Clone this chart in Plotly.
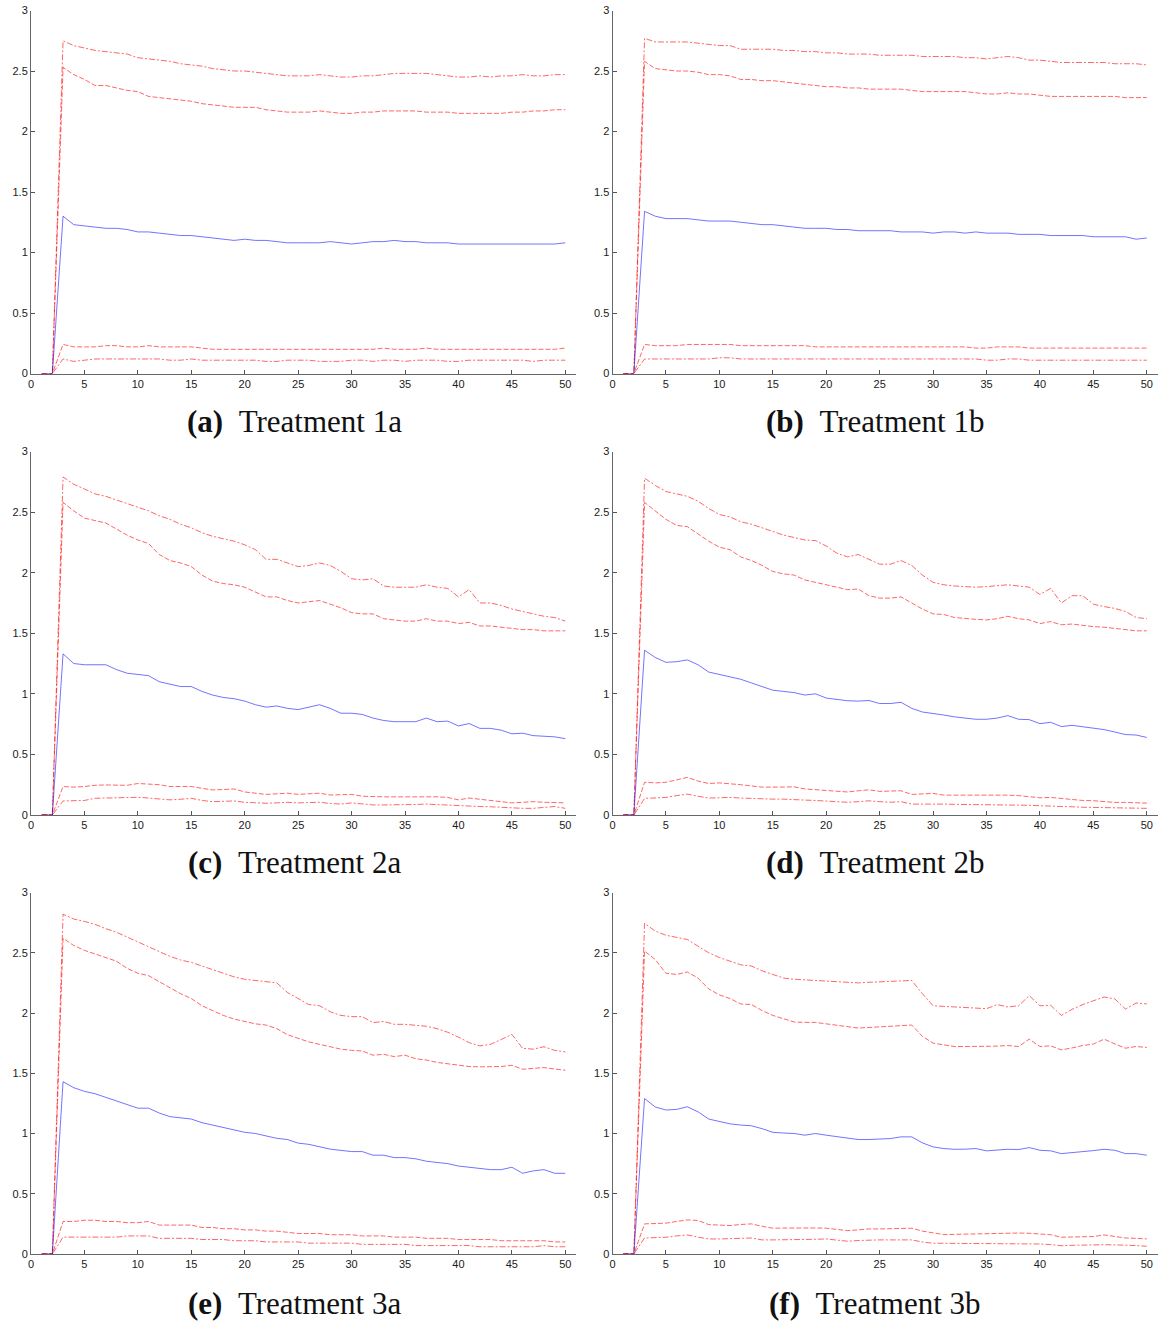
import plotly.graph_objects as go

x = list(range(1, 51))

# ---------------- Treatment 1a ----------------
a_up_outer = [0, 0, 2.75, 2.71, 2.69, 2.67, 2.66, 2.65, 2.64, 2.61, 2.60, 2.59, 2.58, 2.56, 2.55, 2.54, 2.52, 2.51, 2.50, 2.50,
              2.49, 2.48, 2.47, 2.46, 2.46, 2.46, 2.47, 2.46, 2.45, 2.45, 2.46, 2.46, 2.47, 2.48, 2.48, 2.48, 2.48, 2.47, 2.46, 2.45,
              2.45, 2.46, 2.45, 2.46, 2.46, 2.47, 2.46, 2.46, 2.47, 2.47]
a_up_inner = [0, 0, 2.53, 2.47, 2.43, 2.38, 2.38, 2.36, 2.34, 2.33, 2.29, 2.28, 2.27, 2.26, 2.25, 2.23, 2.22, 2.21, 2.20, 2.20,
              2.20, 2.18, 2.17, 2.16, 2.16, 2.16, 2.17, 2.16, 2.15, 2.15, 2.16, 2.16, 2.17, 2.17, 2.17, 2.17, 2.16, 2.16, 2.16, 2.15,
              2.15, 2.15, 2.15, 2.15, 2.16, 2.16, 2.17, 2.17, 2.18, 2.18]
a_mean = [0, 0, 1.30, 1.23, 1.22, 1.21, 1.20, 1.20, 1.19, 1.17, 1.17, 1.16, 1.15, 1.14, 1.14, 1.13, 1.12, 1.11, 1.10, 1.11,
          1.10, 1.10, 1.09, 1.08, 1.08, 1.08, 1.08, 1.09, 1.08, 1.07, 1.08, 1.09, 1.09, 1.10, 1.09, 1.09, 1.08, 1.08, 1.08, 1.07,
          1.07, 1.07, 1.07, 1.07, 1.07, 1.07, 1.07, 1.07, 1.07, 1.08]
a_lo_inner = [0, 0, 0.24, 0.22, 0.22, 0.22, 0.23, 0.23, 0.22, 0.22, 0.23, 0.22, 0.22, 0.22, 0.22, 0.21, 0.20, 0.20, 0.20, 0.20,
              0.20, 0.20, 0.20, 0.20, 0.20, 0.20, 0.20, 0.20, 0.20, 0.20, 0.20, 0.20, 0.21, 0.20, 0.20, 0.20, 0.21, 0.20, 0.20, 0.20,
              0.20, 0.20, 0.20, 0.20, 0.20, 0.20, 0.20, 0.20, 0.20, 0.21]
a_lo_outer = [0, 0, 0.12, 0.10, 0.11, 0.12, 0.12, 0.12, 0.12, 0.12, 0.12, 0.12, 0.11, 0.11, 0.12, 0.11, 0.11, 0.11, 0.11, 0.11,
              0.11, 0.10, 0.10, 0.11, 0.11, 0.11, 0.10, 0.10, 0.10, 0.11, 0.11, 0.10, 0.11, 0.11, 0.10, 0.11, 0.11, 0.11, 0.10, 0.10,
              0.11, 0.11, 0.11, 0.11, 0.11, 0.11, 0.10, 0.11, 0.11, 0.11]

# ---------------- Treatment 1b ----------------
b_up_outer = [0, 0, 2.77, 2.74, 2.74, 2.74, 2.74, 2.73, 2.72, 2.71, 2.71, 2.68, 2.68, 2.68, 2.68, 2.67, 2.67, 2.66, 2.66, 2.65,
              2.65, 2.64, 2.64, 2.64, 2.63, 2.63, 2.63, 2.63, 2.62, 2.62, 2.62, 2.62, 2.61, 2.61, 2.60, 2.61, 2.62, 2.61, 2.59, 2.59,
              2.58, 2.57, 2.57, 2.57, 2.57, 2.57, 2.56, 2.56, 2.56, 2.55]
b_up_inner = [0, 0, 2.58, 2.52, 2.51, 2.50, 2.50, 2.49, 2.47, 2.47, 2.46, 2.43, 2.43, 2.42, 2.42, 2.41, 2.40, 2.39, 2.38, 2.37,
              2.37, 2.36, 2.36, 2.35, 2.35, 2.35, 2.35, 2.34, 2.33, 2.33, 2.33, 2.33, 2.33, 2.32, 2.31, 2.31, 2.32, 2.31, 2.31, 2.30,
              2.29, 2.29, 2.29, 2.29, 2.29, 2.29, 2.29, 2.28, 2.28, 2.28]
b_mean = [0, 0, 1.34, 1.30, 1.28, 1.28, 1.28, 1.27, 1.26, 1.26, 1.26, 1.25, 1.24, 1.23, 1.23, 1.22, 1.21, 1.20, 1.20, 1.20,
          1.19, 1.19, 1.18, 1.18, 1.18, 1.18, 1.17, 1.17, 1.17, 1.16, 1.17, 1.17, 1.16, 1.17, 1.16, 1.16, 1.16, 1.15, 1.15, 1.15,
          1.14, 1.14, 1.14, 1.14, 1.13, 1.13, 1.13, 1.13, 1.11, 1.12]
b_lo_inner = [0, 0, 0.24, 0.23, 0.23, 0.23, 0.24, 0.24, 0.24, 0.24, 0.24, 0.23, 0.23, 0.23, 0.23, 0.23, 0.23, 0.23, 0.22, 0.22,
              0.22, 0.22, 0.22, 0.22, 0.22, 0.22, 0.22, 0.22, 0.22, 0.22, 0.22, 0.22, 0.22, 0.21, 0.21, 0.22, 0.22, 0.22, 0.21, 0.21,
              0.21, 0.21, 0.21, 0.21, 0.21, 0.21, 0.21, 0.21, 0.21, 0.21]
b_lo_outer = [0, 0, 0.12, 0.12, 0.12, 0.12, 0.12, 0.12, 0.12, 0.13, 0.13, 0.12, 0.12, 0.12, 0.12, 0.12, 0.12, 0.12, 0.12, 0.12,
              0.12, 0.12, 0.12, 0.12, 0.12, 0.12, 0.12, 0.12, 0.12, 0.12, 0.12, 0.12, 0.12, 0.12, 0.11, 0.11, 0.12, 0.12, 0.11, 0.11,
              0.11, 0.11, 0.11, 0.11, 0.11, 0.11, 0.11, 0.11, 0.11, 0.11]

# ---------------- Treatment 2a ----------------
c_up_outer = [0, 0, 2.79, 2.73, 2.69, 2.65, 2.63, 2.60, 2.57, 2.54, 2.51, 2.47, 2.44, 2.40, 2.37, 2.33, 2.30, 2.28, 2.26, 2.23,
              2.19, 2.11, 2.11, 2.08, 2.05, 2.06, 2.08, 2.06, 2.01, 1.95, 1.94, 1.95, 1.89, 1.88, 1.88, 1.88, 1.90, 1.88, 1.87, 1.80,
              1.86, 1.75, 1.75, 1.73, 1.70, 1.68, 1.66, 1.64, 1.63, 1.60]
c_up_inner = [0, 0, 2.58, 2.51, 2.45, 2.43, 2.41, 2.36, 2.31, 2.27, 2.24, 2.15, 2.10, 2.08, 2.05, 1.98, 1.93, 1.91, 1.90, 1.88,
              1.84, 1.80, 1.80, 1.77, 1.75, 1.76, 1.77, 1.74, 1.71, 1.67, 1.66, 1.66, 1.62, 1.61, 1.60, 1.60, 1.62, 1.60, 1.60, 1.58,
              1.59, 1.56, 1.56, 1.55, 1.54, 1.53, 1.53, 1.52, 1.52, 1.52]
c_mean = [0, 0, 1.33, 1.25, 1.24, 1.24, 1.24, 1.20, 1.17, 1.16, 1.15, 1.10, 1.08, 1.06, 1.06, 1.02, 0.99, 0.97, 0.96, 0.94,
          0.91, 0.89, 0.90, 0.88, 0.87, 0.89, 0.91, 0.88, 0.84, 0.84, 0.83, 0.80, 0.78, 0.77, 0.77, 0.77, 0.80, 0.77, 0.775, 0.735,
          0.755, 0.715, 0.715, 0.70, 0.67, 0.675, 0.655, 0.65, 0.645, 0.63]
c_lo_inner = [0, 0, 0.235, 0.23, 0.235, 0.245, 0.248, 0.245, 0.245, 0.26, 0.257, 0.25, 0.235, 0.235, 0.235, 0.22, 0.207, 0.21, 0.215, 0.19,
              0.18, 0.17, 0.175, 0.18, 0.17, 0.175, 0.18, 0.165, 0.165, 0.17, 0.155, 0.15, 0.15, 0.15, 0.15, 0.155, 0.155, 0.15, 0.145, 0.125,
              0.14, 0.13, 0.125, 0.115, 0.10, 0.105, 0.11, 0.105, 0.10, 0.10]
c_lo_outer = [0, 0, 0.116, 0.115, 0.12, 0.138, 0.14, 0.14, 0.143, 0.146, 0.14, 0.13, 0.125, 0.13, 0.138, 0.12, 0.11, 0.113, 0.116, 0.105,
              0.10, 0.097, 0.10, 0.105, 0.10, 0.103, 0.105, 0.095, 0.09, 0.10, 0.09, 0.083, 0.083, 0.083, 0.083, 0.087, 0.09, 0.085, 0.08, 0.074,
              0.075, 0.07, 0.068, 0.062, 0.055, 0.055, 0.055, 0.06, 0.07, 0.055]

# ---------------- Treatment 2b ----------------
d_up_outer = [0, 0, 2.78, 2.72, 2.67, 2.65, 2.63, 2.59, 2.53, 2.48, 2.46, 2.42, 2.40, 2.37, 2.34, 2.31, 2.29, 2.27, 2.265, 2.22,
              2.16, 2.13, 2.15, 2.11, 2.07, 2.07, 2.10, 2.06, 1.98, 1.92, 1.90, 1.89, 1.885, 1.88, 1.885, 1.89, 1.90, 1.89, 1.88, 1.82,
              1.87, 1.75, 1.81, 1.81, 1.74, 1.72, 1.705, 1.68, 1.63, 1.62]
d_up_inner = [0, 0, 2.58, 2.51, 2.44, 2.39, 2.38, 2.32, 2.26, 2.21, 2.19, 2.13, 2.10, 2.06, 2.01, 1.99, 1.98, 1.94, 1.92, 1.90,
              1.88, 1.86, 1.865, 1.81, 1.79, 1.79, 1.80, 1.75, 1.70, 1.66, 1.655, 1.63, 1.62, 1.615, 1.61, 1.62, 1.64, 1.62, 1.61, 1.58,
              1.596, 1.57, 1.576, 1.565, 1.555, 1.55, 1.54, 1.53, 1.52, 1.52]
d_mean = [0, 0, 1.36, 1.30, 1.26, 1.265, 1.28, 1.24, 1.18, 1.16, 1.14, 1.12, 1.09, 1.06, 1.03, 1.02, 1.01, 0.99, 1.00, 0.965,
          0.955, 0.943, 0.94, 0.945, 0.92, 0.92, 0.93, 0.88, 0.85, 0.84, 0.825, 0.81, 0.80, 0.79, 0.79, 0.80, 0.82, 0.79, 0.787, 0.754,
          0.765, 0.73, 0.74, 0.73, 0.715, 0.705, 0.685, 0.664, 0.66, 0.64]
d_lo_inner = [0, 0, 0.27, 0.265, 0.27, 0.29, 0.31, 0.28, 0.26, 0.265, 0.26, 0.25, 0.24, 0.23, 0.23, 0.232, 0.232, 0.215, 0.21, 0.205,
              0.20, 0.19, 0.20, 0.208, 0.195, 0.197, 0.20, 0.17, 0.175, 0.178, 0.164, 0.165, 0.166, 0.167, 0.166, 0.165, 0.164, 0.16, 0.153, 0.142,
              0.145, 0.135, 0.126, 0.12, 0.118, 0.11, 0.104, 0.104, 0.104, 0.098]
d_lo_outer = [0, 0, 0.137, 0.14, 0.145, 0.16, 0.172, 0.155, 0.14, 0.142, 0.145, 0.14, 0.135, 0.13, 0.131, 0.131, 0.13, 0.123, 0.12, 0.117,
              0.11, 0.105, 0.11, 0.117, 0.11, 0.105, 0.11, 0.09, 0.09, 0.092, 0.09, 0.088, 0.087, 0.085, 0.086, 0.087, 0.087, 0.083, 0.08, 0.076,
              0.075, 0.071, 0.068, 0.064, 0.063, 0.063, 0.063, 0.063, 0.06, 0.055]

# ---------------- Treatment 3a ----------------
e_up_outer = [0, 0, 2.82, 2.78, 2.76, 2.735, 2.70, 2.67, 2.63, 2.59, 2.555, 2.51, 2.47, 2.44, 2.42, 2.39, 2.36, 2.33, 2.30, 2.28,
              2.27, 2.26, 2.25, 2.17, 2.12, 2.07, 2.06, 2.01, 1.98, 1.97, 1.97, 1.92, 1.93, 1.906, 1.906, 1.90, 1.89, 1.87, 1.84, 1.80,
              1.754, 1.727, 1.74, 1.78, 1.823, 1.707, 1.70, 1.72, 1.69, 1.677]
e_up_inner = [0, 0, 2.62, 2.56, 2.52, 2.49, 2.46, 2.43, 2.37, 2.33, 2.31, 2.26, 2.21, 2.16, 2.12, 2.06, 2.02, 1.98, 1.95, 1.93,
              1.91, 1.90, 1.87, 1.82, 1.79, 1.76, 1.74, 1.72, 1.70, 1.69, 1.685, 1.65, 1.657, 1.638, 1.65, 1.62, 1.61, 1.59, 1.58, 1.565,
              1.556, 1.553, 1.553, 1.556, 1.566, 1.533, 1.54, 1.547, 1.535, 1.525]
e_mean = [0, 0, 1.43, 1.38, 1.35, 1.33, 1.30, 1.27, 1.24, 1.21, 1.21, 1.17, 1.14, 1.13, 1.12, 1.09, 1.07, 1.05, 1.03, 1.01,
          1.00, 0.98, 0.96, 0.95, 0.92, 0.91, 0.89, 0.87, 0.86, 0.85, 0.85, 0.82, 0.82, 0.80, 0.80, 0.79, 0.77, 0.76, 0.75, 0.73,
          0.72, 0.71, 0.70, 0.70, 0.72, 0.67, 0.69, 0.70, 0.67, 0.67]
e_lo_inner = [0, 0, 0.27, 0.27, 0.28, 0.28, 0.27, 0.27, 0.26, 0.26, 0.27, 0.24, 0.24, 0.24, 0.24, 0.22, 0.22, 0.21, 0.21, 0.20,
              0.20, 0.19, 0.19, 0.18, 0.17, 0.17, 0.17, 0.16, 0.16, 0.16, 0.15, 0.15, 0.15, 0.14, 0.14, 0.14, 0.13, 0.13, 0.13, 0.12,
              0.12, 0.12, 0.12, 0.11, 0.11, 0.11, 0.11, 0.11, 0.10, 0.10]
e_lo_outer = [0, 0, 0.14, 0.14, 0.14, 0.14, 0.14, 0.14, 0.15, 0.15, 0.15, 0.13, 0.13, 0.13, 0.13, 0.12, 0.12, 0.12, 0.11, 0.11,
              0.11, 0.10, 0.10, 0.10, 0.10, 0.09, 0.09, 0.09, 0.09, 0.09, 0.08, 0.08, 0.08, 0.08, 0.08, 0.07, 0.07, 0.07, 0.07, 0.07,
              0.07, 0.06, 0.06, 0.06, 0.06, 0.06, 0.06, 0.07, 0.06, 0.06]

# ---------------- Treatment 3b ----------------
f_up_outer = [0, 0, 2.744, 2.68, 2.645, 2.625, 2.61, 2.555, 2.50, 2.46, 2.43, 2.40, 2.39, 2.35, 2.32, 2.29, 2.28, 2.278, 2.27, 2.265,
              2.26, 2.25, 2.25, 2.255, 2.26, 2.262, 2.265, 2.27, 2.16, 2.06, 2.055, 2.05, 2.045, 2.04, 2.036, 2.07, 2.05, 2.06, 2.144, 2.06,
              2.064, 1.98, 2.03, 2.07, 2.10, 2.133, 2.117, 2.033, 2.083, 2.075]
f_up_inner = [0, 0, 2.514, 2.444, 2.33, 2.32, 2.34, 2.29, 2.20, 2.15, 2.12, 2.075, 2.07, 2.02, 1.98, 1.95, 1.925, 1.922, 1.922, 1.91,
              1.90, 1.885, 1.875, 1.88, 1.885, 1.89, 1.895, 1.90, 1.806, 1.75, 1.735, 1.722, 1.722, 1.722, 1.722, 1.725, 1.73, 1.722, 1.783, 1.722,
              1.728, 1.694, 1.71, 1.73, 1.742, 1.783, 1.744, 1.708, 1.722, 1.714]
f_mean = [0, 0, 1.29, 1.22, 1.195, 1.20, 1.222, 1.18, 1.12, 1.097, 1.08, 1.07, 1.064, 1.04, 1.01, 1.004, 1.0, 0.986, 1.0, 0.986,
          0.972, 0.96, 0.95, 0.95, 0.955, 0.958, 0.972, 0.972, 0.922, 0.889, 0.875, 0.869, 0.870, 0.875, 0.856, 0.865, 0.869, 0.867, 0.883, 0.861,
          0.856, 0.833, 0.84, 0.847, 0.858, 0.869, 0.861, 0.833, 0.833, 0.82]
f_lo_inner = [0, 0, 0.25, 0.252, 0.256, 0.27, 0.283, 0.278, 0.244, 0.24, 0.236, 0.245, 0.25, 0.23, 0.214, 0.215, 0.217, 0.217, 0.216, 0.214,
              0.205, 0.194, 0.20, 0.208, 0.208, 0.21, 0.212, 0.214, 0.19, 0.175, 0.161, 0.163, 0.165, 0.167, 0.17, 0.173, 0.175, 0.174, 0.172, 0.163,
              0.16, 0.139, 0.139, 0.139, 0.145, 0.158, 0.145, 0.133, 0.13, 0.125]
f_lo_outer = [0, 0, 0.133, 0.135, 0.139, 0.15, 0.158, 0.14, 0.125, 0.125, 0.125, 0.13, 0.133, 0.117, 0.117, 0.117, 0.117, 0.12, 0.122, 0.125,
              0.115, 0.106, 0.112, 0.117, 0.117, 0.117, 0.117, 0.117, 0.10, 0.089, 0.089, 0.089, 0.086, 0.083, 0.083, 0.083, 0.083, 0.083, 0.083, 0.083,
              0.078, 0.069, 0.072, 0.075, 0.078, 0.077, 0.076, 0.075, 0.07, 0.064]

panels = [
    ("a", "Treatment 1a", a_up_outer, a_up_inner, a_mean, a_lo_inner, a_lo_outer),
    ("b", "Treatment 1b", b_up_outer, b_up_inner, b_mean, b_lo_inner, b_lo_outer),
    ("c", "Treatment 2a", c_up_outer, c_up_inner, c_mean, c_lo_inner, c_lo_outer),
    ("d", "Treatment 2b", d_up_outer, d_up_inner, d_mean, d_lo_inner, d_lo_outer),
    ("e", "Treatment 3a", e_up_outer, e_up_inner, e_mean, e_lo_inner, e_lo_outer),
    ("f", "Treatment 3b", f_up_outer, f_up_inner, f_mean, f_lo_inner, f_lo_outer),
]

W, H = 1159, 1324
col_x0 = [31, 612.5]          # pixel position of x=0 for each column
col_w = 545                   # pixels spanned by x in [0, 51]
row_y = [(10.5, 373.5), (451.5, 815), (892.5, 1254)]   # (top, bottom) pixels
cap_x = [294, 875]
cap_y = [422, 862, 1303]

RED = "rgba(255,0,0,0.6)"
BLUE = "rgba(0,0,255,0.55)"
DASHDOT = "6px,2px,2px,2px"
DASHED = "5px,2px"

fig = go.Figure()
layout = dict(
    width=W, height=H,
    margin=dict(l=0, r=0, t=0, b=0, autoexpand=False),
    paper_bgcolor="white", plot_bgcolor="white",
    showlegend=False,
    annotations=[],
)

tickfont = dict(family="Liberation Sans, Arial, sans-serif", size=11, color="#1a1a1a")

for i, (letter, name, uo, ui, m, li, lo) in enumerate(panels):
    r, c = divmod(i, 2)
    sfx = "" if i == 0 else str(i + 1)
    xa, ya = "x" + sfx, "y" + sfx
    x0 = col_x0[c]
    top, bot = row_y[r]
    layout["xaxis" + sfx] = dict(
        domain=[x0 / W, (x0 + col_w) / W], range=[0, 51], anchor=ya, automargin=False,
        tickvals=list(range(0, 51, 5)), ticks="inside", ticklen=4, tickcolor="#555",
        showline=True, linecolor="#666", linewidth=1, showgrid=False, zeroline=False,
        tickfont=tickfont, fixedrange=True,
    )
    layout["yaxis" + sfx] = dict(
        domain=[1 - bot / H, 1 - top / H], range=[0, 3], anchor=xa, automargin=False,
        tickvals=[0, 0.5, 1, 1.5, 2, 2.5, 3], ticktext=["0", "0.5", "1", "1.5", "2", "2.5", "3"],
        ticks="inside", ticklen=4, tickcolor="#555",
        showline=True, linecolor="#666", linewidth=1, showgrid=False, zeroline=False,
        tickfont=tickfont, fixedrange=True,
    )
    for vals, col, dash in [(uo, RED, DASHDOT), (ui, RED, DASHED), (li, RED, DASHED), (lo, RED, DASHDOT), (m, BLUE, "solid")]:
        fig.add_trace(go.Scatter(x=x, y=vals, mode="lines", xaxis=xa, yaxis=ya, cliponaxis=False,
                                 line=dict(color=col, width=1, dash=dash), hoverinfo="skip"))
    layout["annotations"].append(dict(
        x=cap_x[c] / W, y=1 - cap_y[r] / H, xref="paper", yref="paper",
        text=f"<b>({letter})</b>\u00a0\u00a0{name}", showarrow=False,
        xanchor="center", yanchor="middle",
        font=dict(family="Liberation Serif, Times New Roman, serif", size=31, color="#111"),
    ))

fig.update_layout(**layout)
fig.write_html("out.html")
